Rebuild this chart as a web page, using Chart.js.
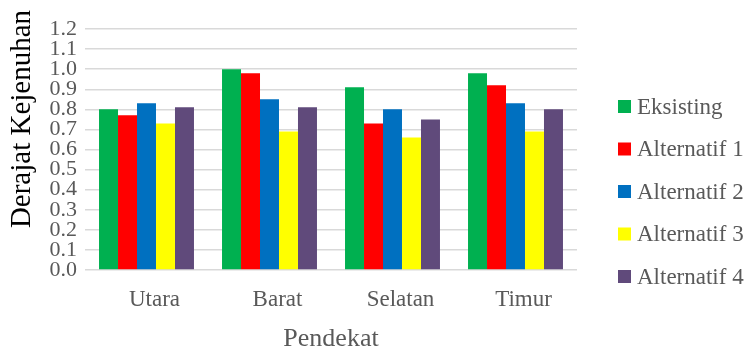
<!DOCTYPE html>
<html>
<head>
<meta charset="utf-8">
<script src="https://cdn.jsdelivr.net/npm/chart.js@4"></script>
<style>
  html, body { margin: 0; padding: 0; background: #fff; }
  #wrap { width: 747px; height: 347px; position: relative; }
</style>
</head>
<body>
<div id="wrap"><canvas id="c" width="747" height="347"></canvas></div>
<script>
// Approaches (arms of the intersection)
const categories = ['Utara', 'Barat', 'Selatan', 'Timur'];

// Degree of saturation per scenario
const eksisting   = [0.80, 1.00, 0.91, 0.98];
const alternatif1 = [0.77, 0.98, 0.73, 0.92];
const alternatif2 = [0.83, 0.85, 0.80, 0.83];
const alternatif3 = [0.73, 0.69, 0.66, 0.69];
const alternatif4 = [0.81, 0.81, 0.75, 0.80];

const seriesNames = ['Eksisting', 'Alternatif 1', 'Alternatif 2', 'Alternatif 3', 'Alternatif 4'];
const seriesColors = ['#00b050', '#ff0000', '#0070c0', '#ffff00', '#604a7b'];
const seriesValues = [eksisting, alternatif1, alternatif2, alternatif3, alternatif4];

const yTitle = 'Derajat Kejenuhan';
const xTitle = 'Pendekat';

const SERIF = '"Liberation Serif", "Times New Roman", serif';
const TEXT_GREY = '#595959';

// Vertical axis title and the side legend, painted on the canvas
const sideText = {
  id: 'sideText',
  afterDraw(chart) {
    const ctx = chart.ctx;
    ctx.save();
    ctx.fillStyle = '#000';
    ctx.font = '29px ' + SERIF;
    ctx.textAlign = 'center';
    ctx.textBaseline = 'alphabetic';
    ctx.translate(30, 119);
    ctx.rotate(-Math.PI / 2);
    ctx.fillText(yTitle, 0, 0);
    ctx.restore();

    ctx.save();
    ctx.font = '23px ' + SERIF;
    ctx.textBaseline = 'middle';
    ctx.textAlign = 'left';
    chart.data.datasets.forEach((ds, i) => {
      const cy = 106.5 + i * 42.5;
      ctx.fillStyle = ds.backgroundColor;
      ctx.fillRect(618, cy - 6.5, 13, 13);
      ctx.fillStyle = TEXT_GREY;
      ctx.fillText(ds.label, 637, cy + 1);
    });
    ctx.restore();
  }
};

new Chart(document.getElementById('c'), {
  type: 'bar',
  data: {
    labels: categories,
    datasets: seriesNames.map((name, i) => ({
      label: name,
      data: seriesValues[i],
      backgroundColor: seriesColors[i],
      borderWidth: 0,
      categoryPercentage: 0.772,
      barPercentage: 1.0
    }))
  },
  options: {
    responsive: false,
    animation: false,
    layout: { padding: { left: 0, top: 29, right: 170, bottom: 0 } },
    plugins: {
      legend: { display: false },
      tooltip: { enabled: false }
    },
    scales: {
      x: {
        grid: { display: false, drawTicks: false },
        border: { display: false },
        ticks: {
          color: TEXT_GREY,
          font: { family: SERIF, size: 23 },
          padding: 16,
          labelOffset: 8
        },
        title: {
          display: true,
          text: xTitle,
          color: TEXT_GREY,
          font: { family: SERIF, size: 26 },
          padding: { top: 0, bottom: -8 }
        },
        afterFit(scale) { scale.height = 77; }
      },
      y: {
        min: 0,
        max: 1.2,
        grid: { color: '#d9d9d9', lineWidth: 1.5, drawTicks: false },
        border: { display: false },
        ticks: {
          stepSize: 0.1,
          autoSkip: false,
          color: TEXT_GREY,
          font: { family: SERIF, size: 22 },
          padding: 8,
          callback: v => Number(v).toFixed(1)
        },
        afterFit(scale) { scale.width = 85; }
      }
    }
  },
  plugins: [sideText]
});
</script>
</body>
</html>
